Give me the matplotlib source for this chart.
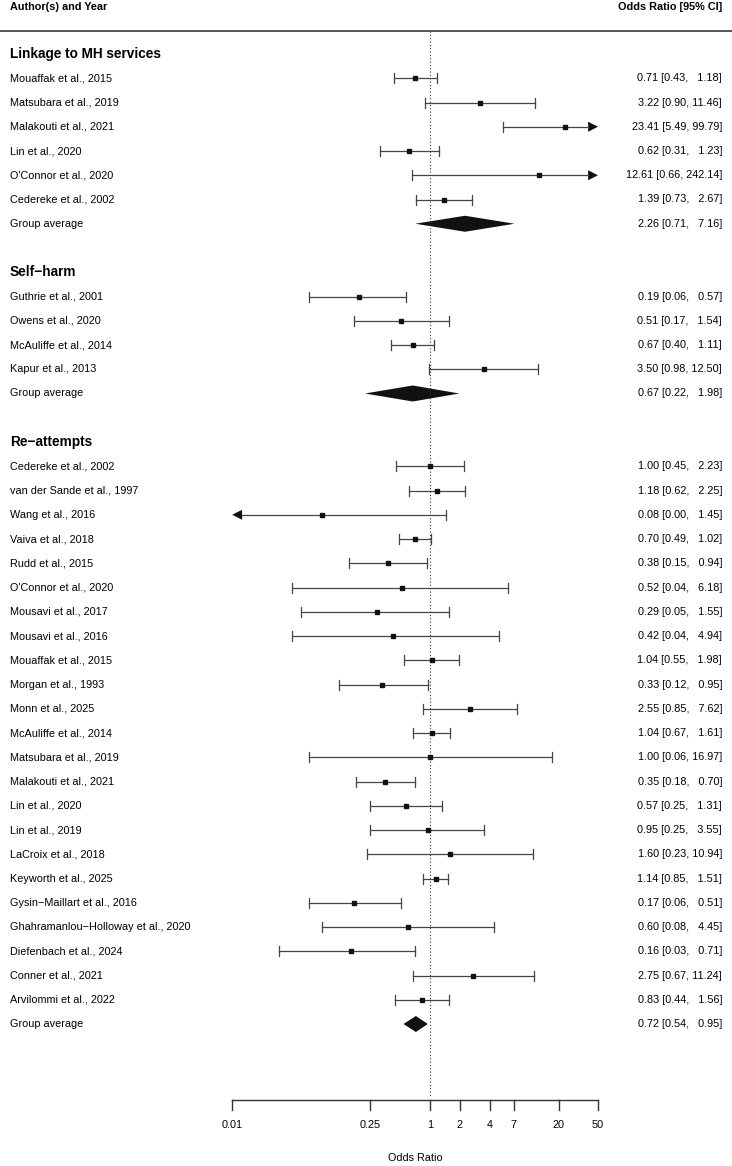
import numpy as np
import matplotlib.pyplot as plt
from matplotlib.patches import Polygon
from matplotlib.transforms import blended_transform_factory

plt.rcParams['font.family'] = ['Liberation Sans', 'DejaVu Sans']

# ---- data (odds ratios with 95% CI) ----
linkage_names = ["Mouaffak et al., 2015", "Matsubara et al., 2019", "Malakouti et al., 2021",
                 "Lin et al., 2020", "O'Connor et al., 2020", "Cedereke et al., 2002"]
linkage_or = [0.71, 3.22, 23.41, 0.62, 12.61, 1.39]
linkage_lo = [0.43, 0.90, 5.49, 0.31, 0.66, 0.73]
linkage_hi = [1.18, 11.46, 99.79, 1.23, 242.14, 2.67]
linkage_pooled = (2.26, 0.71, 7.16)

selfharm_names = ["Guthrie et al., 2001", "Owens et al., 2020", "McAuliffe et al., 2014",
                  "Kapur et al., 2013"]
selfharm_or = [0.19, 0.51, 0.67, 3.50]
selfharm_lo = [0.06, 0.17, 0.40, 0.98]
selfharm_hi = [0.57, 1.54, 1.11, 12.50]
selfharm_pooled = (0.67, 0.22, 1.98)

reattempt_names = ["Cedereke et al., 2002", "van der Sande et al., 1997", "Wang et al., 2016",
                   "Vaiva et al., 2018", "Rudd et al., 2015", "O'Connor et al., 2020",
                   "Mousavi et al., 2017", "Mousavi et al., 2016", "Mouaffak et al., 2015",
                   "Morgan et al., 1993", "Monn et al., 2025", "McAuliffe et al., 2014",
                   "Matsubara et al., 2019", "Malakouti et al., 2021", "Lin et al., 2020",
                   "Lin et al., 2019", "LaCroix et al., 2018", "Keyworth et al., 2025",
                   "Gysin\u2212Maillart et al., 2016", "Ghahramanlou\u2212Holloway et al., 2020",
                   "Diefenbach et al., 2024", "Conner et al., 2021", "Arvilommi et al., 2022"]
reattempt_or = [1.00, 1.18, 0.08, 0.70, 0.38, 0.52, 0.29, 0.42, 1.04, 0.33, 2.55, 1.04,
                1.00, 0.35, 0.57, 0.95, 1.60, 1.14, 0.17, 0.60, 0.16, 2.75, 0.83]
reattempt_lo = [0.45, 0.62, 0.00, 0.49, 0.15, 0.04, 0.05, 0.04, 0.55, 0.12, 0.85, 0.67,
                0.06, 0.18, 0.25, 0.25, 0.23, 0.85, 0.06, 0.08, 0.03, 0.67, 0.44]
reattempt_hi = [2.23, 2.25, 1.45, 1.02, 0.94, 6.18, 1.55, 4.94, 1.98, 0.95, 7.62, 1.61,
                16.97, 0.70, 1.31, 3.55, 10.94, 1.51, 0.51, 4.45, 0.71, 11.24, 1.56]
reattempt_pooled = (0.72, 0.54, 0.95)

groups = [
    ("Linkage to MH services", linkage_names, linkage_or, linkage_lo, linkage_hi, linkage_pooled),
    ("Self\u2212harm", selfharm_names, selfharm_or, selfharm_lo, selfharm_hi, selfharm_pooled),
    ("Re\u2212attempts", reattempt_names, reattempt_or, reattempt_lo, reattempt_hi, reattempt_pooled),
]

tick_vals = [0.01, 0.25, 1, 2, 4, 7, 20, 50]
tick_labels = ["0.01", "0.25", "1", "2", "4", "7", "20", "50"]
XLO, XHI = 0.01, 50

# ---- layout ----
ROW_PX = 24.25
TOP_PX = 54
H_PX = 1166
cap = 5 / ROW_PX
dia_h = 8 / ROW_PX
arr_h = 5 / ROW_PX
arr_len = 0.1  # decades


def fmt(e, l, h):
    hs = f"{h:.2f}"
    pad = max(0, 5 - len(hs))
    return f"{e:.2f} [{l:.2f}, " + "  " * pad + hs + "]"


fig = plt.figure(figsize=(7.32, 11.66), dpi=100)
ax = fig.add_axes([0, 0, 1, 1])
ax.set_xscale('log')
ax.set_xlim(10 ** -4.348, 10 ** 3.054)
ax.set_ylim((H_PX - TOP_PX) / ROW_PX, -TOP_PX / ROW_PX)
ax.axis('off')

tr = blended_transform_factory(ax.transAxes, ax.transData)
fs = 7.8
line_col = '#444444'

# column headers
ax.text(10 / 732, -1.93, "Author(s) and Year", transform=tr, ha='left', va='center',
        fontsize=fs, fontweight='bold')
ax.text(722 / 732, -1.93, "Odds Ratio [95% CI]", transform=tr, ha='right', va='center',
        fontsize=fs, fontweight='bold')
ax.plot([0, 1], [-0.95, -0.95], transform=tr, color='#555555', lw=1.4)

# reference line
ax.plot([1, 1], [-0.95, 43.0], color='#333333', lw=0.8, linestyle=(0, (1, 2)))


def arrow(tip, y, direction):
    base = tip / 10 ** (arr_len * direction)
    ax.add_patch(Polygon([(tip, y), (base, y - arr_h), (base, y + arr_h)],
                         closed=True, facecolor='#111111', edgecolor='none'))
    return base


row = 0
for title, names, est, lo, hi, pooled in groups:
    ax.text(10 / 732, row, title, transform=tr, ha='left', va='center',
            fontsize=9.8, fontweight='bold')
    row += 1
    for n, e, l, h in zip(names, est, lo, hi):
        left = max(l, XLO)
        right = min(h, XHI)
        if l < XLO:
            left = arrow(XLO, row, -1)
        else:
            ax.plot([l, l], [row - cap, row + cap], color=line_col, lw=0.9)
        if h > XHI:
            right = arrow(XHI, row, 1)
        else:
            ax.plot([h, h], [row - cap, row + cap], color=line_col, lw=0.9)
        ax.plot([left, right], [row, row], color=line_col, lw=0.9)
        ax.plot([e], [row], marker='s', color='#111111', markersize=3.4, linestyle='none')
        ax.text(10 / 732, row, n, transform=tr, ha='left', va='center', fontsize=fs)
        ax.text(722 / 732, row, fmt(e, l, h), transform=tr, ha='right', va='center', fontsize=fs)
        row += 1
    pe, pl, ph = pooled
    ax.add_patch(Polygon([(pl, row), (pe, row - dia_h), (ph, row), (pe, row + dia_h)],
                         closed=True, facecolor='#111111', edgecolor='none'))
    ax.text(10 / 732, row, "Group average", transform=tr, ha='left', va='center', fontsize=fs)
    ax.text(722 / 732, row, fmt(pe, pl, ph), transform=tr, ha='right', va='center', fontsize=fs)
    row += 2

# x axis
axis_y = (1100 - TOP_PX) / ROW_PX
tick_end = (1110 - TOP_PX) / ROW_PX
lab_y = (1125 - TOP_PX) / ROW_PX
ax.plot([XLO, XHI], [axis_y, axis_y], color='#333333', lw=1.0)
for v, s in zip(tick_vals, tick_labels):
    ax.plot([v, v], [axis_y, tick_end], color='#333333', lw=1.0)
    ax.text(v, lab_y, s, ha='center', va='center', fontsize=fs)
ax.text(np.sqrt(XLO * XHI), (1158 - TOP_PX) / ROW_PX, "Odds Ratio", ha='center', va='center',
        fontsize=fs)

fig.savefig("out.png", dpi=100)
